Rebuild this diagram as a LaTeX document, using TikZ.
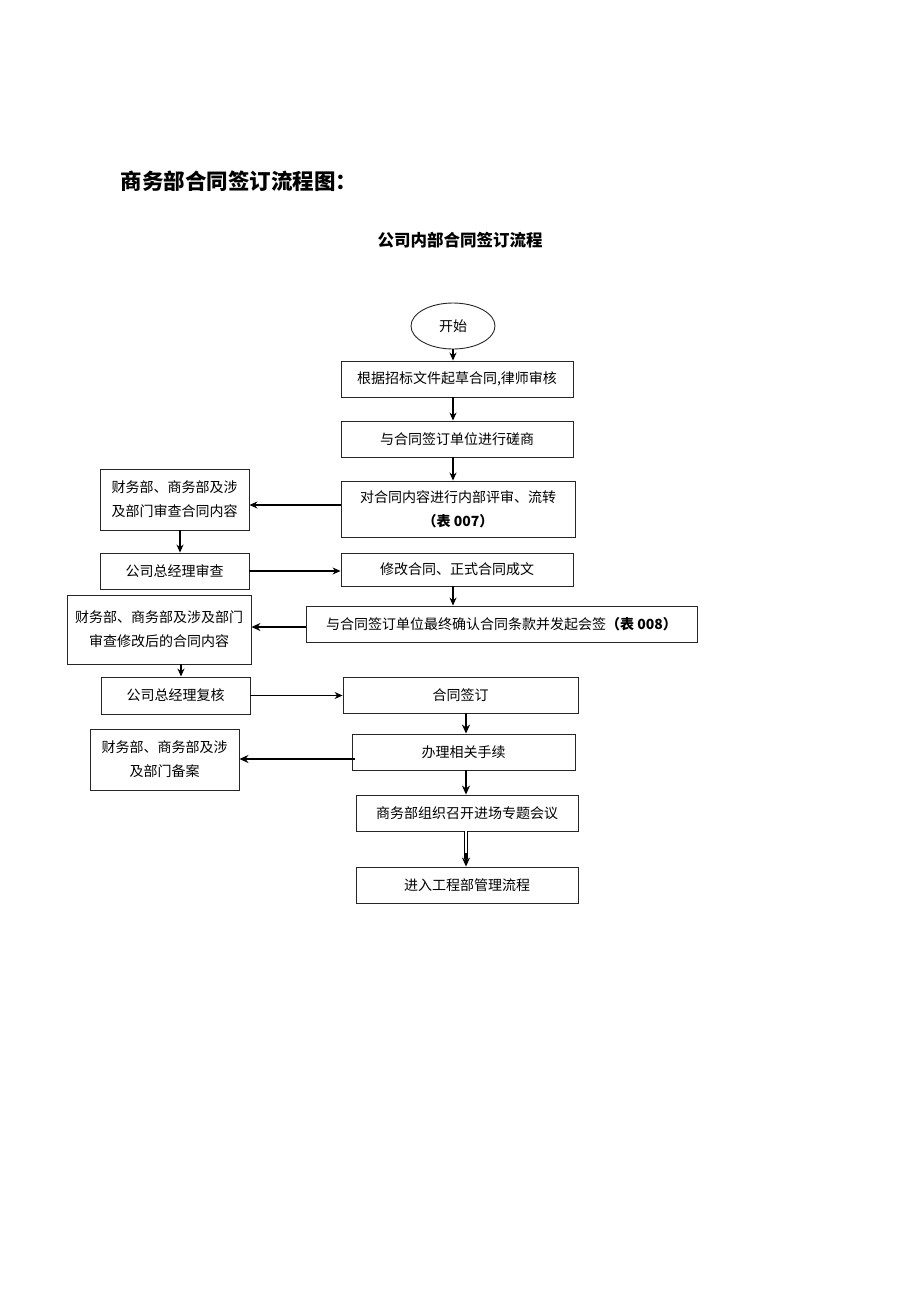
\documentclass[tikz,border=0pt]{standalone}
\usepackage{fontspec}
\setmainfont{Noto Sans CJK SC}
\usetikzlibrary{arrows.meta,shapes.geometric}
\tikzset{
  box/.style={draw=black!85, line width=0.9pt, rectangle, inner sep=0pt, align=center, font=\fontsize{14pt}{24pt}\selectfont},
  arr/.style={draw=black, line width=1.1pt, -{Stealth[length=8pt,width=7pt]}},
  thickarr/.style={draw=black, line width=1.8pt, -{Stealth[length=9pt,width=8pt]}},
}
\begin{document}
\begin{tikzpicture}[x=1pt,y=-1pt]
\useasboundingbox (0,0) rectangle (920,1302);
\node[anchor=west, font=\fontsize{21.5pt}{24pt}\selectfont\bfseries] (title) at (117,181) {商务部合同签订流程图：};
\node[font=\fontsize{16.5pt}{20pt}\selectfont\bfseries] (sub) at (460,240) {公司内部合同签订流程};

\node[box, ellipse, minimum width=84pt, minimum height=46pt] (start) at (453,326) {开始};
\node[box, minimum width=232pt, minimum height=36pt] (b1) at (457,379) {根据招标文件起草合同,律师审核};
\node[box, minimum width=232pt, minimum height=36pt] (b2) at (457,439) {与合同签订单位进行磋商};
\node[box, minimum width=234pt, minimum height=56pt] (b3) at (458,509) {对合同内容进行内部评审、流转\\{\bfseries（表 007）}};
\node[box, minimum width=149pt, minimum height=61pt] (l1) at (174.5,499.5) {财务部、商务部及涉\\及部门审查合同内容};
\node[box, minimum width=149pt, minimum height=36pt] (l2) at (174.5,571) {公司总经理审查};
\node[box, minimum width=232pt, minimum height=33pt] (b4) at (457,569.5) {修改合同、正式合同成文};
\node[box, minimum width=391pt, minimum height=36pt] (b5) at (501.5,624) {与合同签订单位最终确认合同条款并发起会签{\bfseries（表 008）}};
\node[box, minimum width=184pt, minimum height=69pt] (l3) at (159,629.5) {财务部、商务部及涉及部门\\审查修改后的合同内容};
\node[box, minimum width=149pt, minimum height=37pt] (l4) at (175.5,695.5) {公司总经理复核};
\node[box, minimum width=235pt, minimum height=36pt] (b6) at (460.5,695) {合同签订};
\node[box, minimum width=223pt, minimum height=36pt] (b7) at (463.5,752) {办理相关手续};
\node[box, minimum width=149pt, minimum height=61pt] (l5) at (164.5,759.5) {财务部、商务部及涉\\及部门备案};
\node[box, minimum width=222pt, minimum height=36pt] (b8) at (467,813) {商务部组织召开进场专题会议};
\node[box, minimum width=222pt, minimum height=36pt] (b9) at (467,885) {进入工程部管理流程};

\coordinate (xa) at (453,0);
\coordinate (xb) at (466,0);
\coordinate (xl1) at (180,0);
\coordinate (xl3) at (181,0);
\coordinate (y3) at (0,505);
\coordinate (y5) at (0,627);
\coordinate (y7) at (0,759);

\draw[arr] (start.south) -- (b1.north -| xa);
\draw[arr] (b1.south -| xa) -- (b2.north -| xa);
\draw[arr] (b2.south -| xa) -- (b3.north -| xa);
\draw[arr] (b3.west |- y3) -- (l1.east |- y3);
\draw[arr] (l1.south -| xl1) -- (l2.north -| xl1);
\draw[arr] (l2.east) -- (b4.west |- l2.east);
\draw[arr] (b4.south -| xa) -- (b5.north -| xa);
\draw[thickarr] (b5.west |- y5) -- (l3.east |- y5);
\draw[arr] (l3.south -| xl3) -- (l4.north -| xl3);
\draw[arr] (l4.east) -- (b6.west |- l4.east);
\draw[thickarr] (b6.south -| xb) -- (b7.north -| xb);
\draw[thickarr] ([xshift=3pt]b7.west |- y7) -- (l5.east |- y7);
\draw[thickarr] (b7.south -| xb) -- (b8.north -| xb);
\draw[line width=0.9pt, double, double distance=2.5pt, shorten >=8pt] (b8.south -| xb) -- (b9.north -| xb);
\draw[thickarr] ([yshift=14pt]b9.north -| xb) -- (b9.north -| xb);
\end{tikzpicture}
\end{document}
